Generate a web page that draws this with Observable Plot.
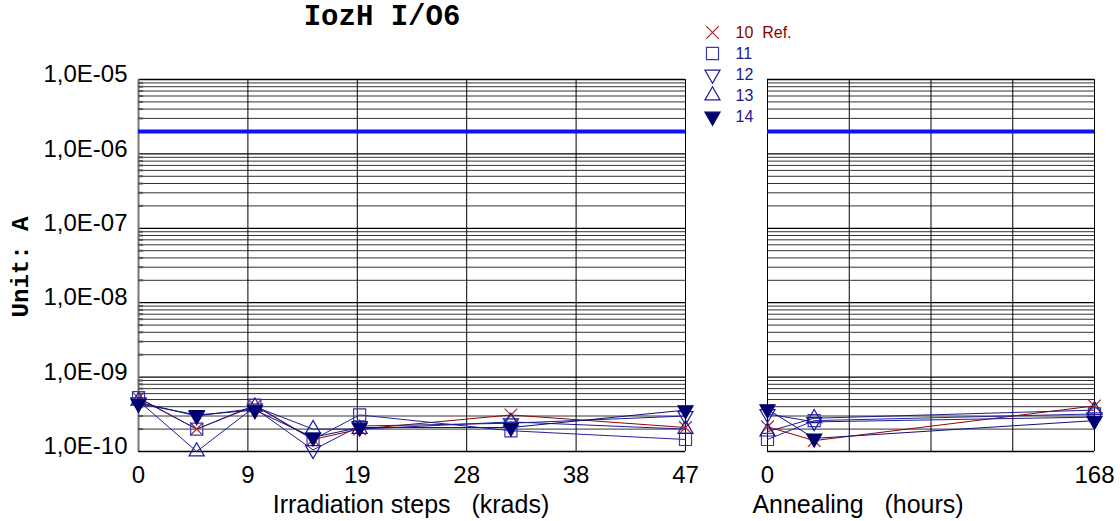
<!DOCTYPE html>
<html><head><meta charset="utf-8">
<script src="https://cdn.jsdelivr.net/npm/d3@7"></script>
<script src="https://cdn.jsdelivr.net/npm/@observablehq/plot@0.6"></script>
<style>
html,body{margin:0;padding:0;background:#fff;}
#root{position:relative;width:1120px;height:521px;overflow:hidden;font-family:"Liberation Sans",Arial,sans-serif;color:#000;}
.abs{position:absolute;white-space:pre;}
.mono{font-family:"Liberation Mono","Courier New",monospace;font-weight:bold;}
.xt{font-size:25px;line-height:28px;transform:translateX(-50%);}
svg text{white-space:pre;}
</style></head><body><div id="root"></div>
<script>
// ---- texts ----
const chartTitle = "IozH I/O6";
const yTitle = "Unit: A";
const xTitleIrr = "Irradiation steps   (krads)";
const xTitleAnn = "Annealing   (hours)";

// ---- series ----
const series = ["10 Ref.", "11", "12", "13", "14"];
const legendLabels = ["10  Ref.", "11", "12", "13", "14"];

// Irradiation steps (krads)
const irrSteps = [0, 5, 10, 15, 19, 32, 47];
const irr10 = [5.2e-10, 2.0e-10, 4.1e-10, 1.45e-10, 2.0e-10, 3.1e-10, 2.1e-10];
const irr11 = [5.3e-10, 2.0e-10, 4.2e-10, 1.45e-10, 3.1e-10, 1.9e-10, 1.45e-10];
const irr12 = [4.6e-10, 3.0e-10, 3.8e-10, 1.05e-10, 2.2e-10, 2.4e-10, 3.0e-10];
const irr13 = [4.8e-10, 1.0e-10, 4.0e-10, 2.0e-10, 2.0e-10, 2.5e-10, 2.0e-10];
const irr14 = [4.4e-10, 3.1e-10, 3.6e-10, 1.55e-10, 2.1e-10, 2.1e-10, 3.6e-10];

// Annealing (hours)
const annHours = [0, 24, 168];
const ann10 = [2.15e-10, 1.4e-10, 4.1e-10];
const ann11 = [1.45e-10, 2.6e-10, 3.2e-10];
const ann12 = [3.2e-10, 2.5e-10, 2.9e-10];
const ann13 = [1.85e-10, 2.8e-10, 3.6e-10];
const ann14 = [3.7e-10, 1.5e-10, 2.6e-10];

// limit line
const limitValue = 2e-6;

// ---- ticks ----
const yTickValues = [1e-10, 1e-9, 1e-8, 1e-7, 1e-6, 1e-5];
const yTickLabels = ["1,0E-10", "1,0E-09", "1,0E-08", "1,0E-07", "1,0E-06", "1,0E-05"];
const irrTickValues = [0, 9.4, 18.8, 28.2, 37.6, 47];
const irrTickLabels = ["0", "9", "19", "28", "38", "47"];
const annTickValues = [0, 42, 84, 126, 168];
const annTickLabels = ["0", "", "", "", "168"];

// ---- styles ----
const lineColor = {"10 Ref.": "#990000", "11": "#24249a", "12": "#1c1c92", "13": "#1c1c92", "14": "#10107e"};
const markerStyle = {
  "10 Ref.": {symbol: "times", stroke: "#b02020", fill: "none", rotate: 0, r: 5.8},
  "11": {symbol: "square", stroke: "#3838b0", fill: "none", rotate: 0, r: 6.8},
  "12": {symbol: "triangle", stroke: "#1c1c9c", fill: "none", rotate: 180, r: 5.6},
  "13": {symbol: "triangle", stroke: "#1c1c9c", fill: "none", rotate: 0, r: 5.6},
  "14": {symbol: "triangle", stroke: "#000070", fill: "#000070", rotate: 180, r: 5.6}
};
const legendTextColor = {"10 Ref.": "#8b0000", "11": "#1a1a8a", "12": "#1a1a8a", "13": "#1a1a8a", "14": "#1a1a8a"};

const root = document.getElementById("root");

function panel({xs, vals, xDomain, gridX, tickVals, tickLbls, width, mL, mR, leftAxis}) {
  const rows = [];
  series.forEach((s, k) => xs.forEach((x, i) => rows.push({series: s, x, v: vals[k][i]})));
  const logTicks = d3.scaleLog().domain([1e-10, 1e-5]).ticks();
  const minor = logTicks.filter(t => !yTickValues.some(d => Math.abs(d - t) / d < 1e-6));
  const marks = [
    Plot.ruleY(minor, {stroke: "#333", strokeWidth: 1}),
    Plot.ruleY(yTickValues, {stroke: "#000", strokeWidth: 1.3}),
    Plot.ruleX(gridX, {stroke: "#000", strokeWidth: 1})
  ];
  if (leftAxis) {
    marks.push(Plot.ruleX([xDomain[0]], {stroke: "#777", strokeWidth: 2}));
    marks.push(Plot.axisY(minor, {tickSize: -5, tickFormat: () => "", stroke: "#555", strokeWidth: 2, label: null}));
  }
  marks.push(Plot.ruleY([limitValue], {stroke: "#1010ff", strokeWidth: 4}));
  series.forEach(s => {
    marks.push(Plot.line(rows.filter(d => d.series === s), {x: "x", y: "v", stroke: lineColor[s], strokeWidth: 1}));
  });
  series.forEach(s => {
    const m = markerStyle[s];
    marks.push(Plot.dot(rows.filter(d => d.series === s), {x: "x", y: "v", symbol: m.symbol, stroke: m.stroke, fill: m.fill, rotate: m.rotate, r: m.r, strokeWidth: 1.2}));
  });
  marks.push(Plot.axisX(tickVals, {tickFormat: d => tickLbls[tickVals.indexOf(d)], tickSize: 0, tickPadding: 14, fontSize: 24, label: null}));
  if (leftAxis) {
    marks.push(Plot.axisY(yTickValues, {tickFormat: d => yTickLabels[yTickValues.indexOf(d)], tickSize: 0, tickPadding: 11, fontSize: 24, dy: -5, label: null}));
  }
  return Plot.plot({
    width, height: 521,
    marginLeft: mL, marginRight: mR, marginTop: 79, marginBottom: 70,
    x: {domain: xDomain, label: null, axis: null},
    y: {type: "log", domain: [1e-10, 1e-5], label: null, axis: null},
    style: {background: "transparent", fontFamily: "Liberation Sans, Arial, sans-serif", color: "#000", overflow: "visible"},
    marks
  });
}

const left = panel({
  xs: irrSteps, vals: [irr10, irr11, irr12, irr13, irr14], xDomain: [0, 47],
  gridX: irrTickValues, tickVals: irrTickValues, tickLbls: irrTickLabels,
  width: 700, mL: 138, mR: 15, leftAxis: true
});
left.style.position = "absolute"; left.style.left = "0px"; left.style.top = "0px";
root.appendChild(left);

const right = panel({
  xs: annHours, vals: [ann10, ann11, ann12, ann13, ann14], xDomain: [0, 168],
  gridX: annTickValues, tickVals: annTickValues, tickLbls: annTickLabels,
  width: 380, mL: 27, mR: 26, leftAxis: false
});
right.style.position = "absolute"; right.style.left = "740px"; right.style.top = "0px";
root.appendChild(right);

// legend
const legendRows = series.map((s, i) => ({series: s, label: legendLabels[i]}));
const legendMarks = series.map(s => {
  const m = markerStyle[s];
  return Plot.dot(legendRows.filter(d => d.series === s), {y: "series", frameAnchor: "left", dx: 22, symbol: m.symbol, stroke: m.stroke, fill: m.fill, rotate: m.rotate, r: m.r, strokeWidth: 1.2});
});
legendMarks.push(Plot.text(legendRows, {y: "series", text: "label", frameAnchor: "left", dx: 45, textAnchor: "start", fill: d => legendTextColor[d.series], fontSize: 16}));
const legend = Plot.plot({
  width: 120, height: 120, margin: 0,
  y: {type: "point", domain: series, range: [21, 106], padding: 0, axis: null},
  style: {background: "transparent", fontFamily: "Liberation Sans, Arial, sans-serif", overflow: "visible"},
  marks: legendMarks
});
legend.style.position = "absolute"; legend.style.left = "690px"; legend.style.top = "10px";
root.appendChild(legend);

// titles
function addDiv(text, cls, css) {
  const d = document.createElement("div");
  d.className = "abs " + cls;
  d.textContent = text;
  Object.assign(d.style, css);
  root.appendChild(d);
}
addDiv(chartTitle, "mono", {left: "382px", top: "0px", fontSize: "29px", lineHeight: "36px", transform: "translateX(-50%)"});
addDiv(yTitle, "mono", {left: "22px", top: "267px", fontSize: "24px", lineHeight: "28px", transform: "translate(-50%,-50%) rotate(-90deg)"});
addDiv(xTitleIrr, "xt", {left: "411px", top: "490px"});
addDiv(xTitleAnn, "xt", {left: "858px", top: "490px"});
</script></body></html>
